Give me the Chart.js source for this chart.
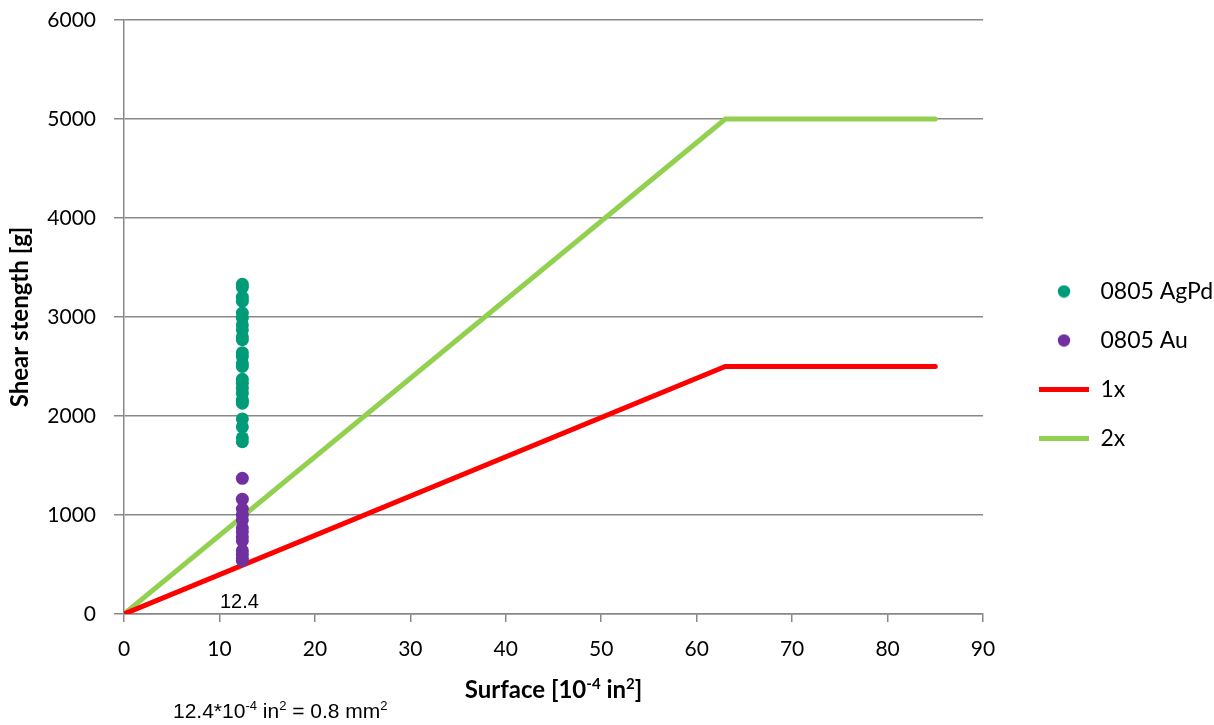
<!DOCTYPE html>
<html><head><meta charset="utf-8">
<script src="https://cdn.jsdelivr.net/npm/chart.js@4.4.1/dist/chart.umd.min.js"></script>
<style>html,body{margin:0;padding:0;background:#fff}#wrap{width:1214px;height:725px}</style>
</head><body><div id="wrap"><canvas id="c" width="1214" height="725"></canvas></div>
<script>
// ---- data ----
const seriesNames = ['0805 AgPd', '0805 Au', '1x', '2x'];
const surfaceX = 12.4;
const agpdShear = [3330, 3300, 3200, 3160, 3040, 2990, 2920, 2870, 2800, 2770, 2640, 2600, 2530, 2500, 2370, 2330, 2280, 2230, 2160, 2130, 1970, 1890, 1780, 1740];
const auShear = [1370, 1160, 1060, 1000, 950, 870, 830, 780, 740, 640, 600, 560, 540];
const limitX = [0, 63, 85];
const limit1x = [0, 2500, 2500];
const limit2x = [0, 5000, 5000];
const xTickValues = [0, 10, 20, 30, 40, 50, 60, 70, 80, 90];
const yTickValues = [0, 1000, 2000, 3000, 4000, 5000, 6000];
const pointLabel = '12.4';
const colors = ['#009B77', '#7030A0', '#FF0000', '#92D050'];

const GRID = '#888888';
const FONT = 'Lato, "Open Sans", sans-serif';
Chart.defaults.font.family = FONT;
Chart.defaults.color = '#000';

function circleIcon(color) {
  const c = document.createElement('canvas');
  c.width = 14; c.height = 14;
  const g = c.getContext('2d');
  g.fillStyle = color;
  g.beginPath(); g.arc(7, 7, 6.2, 0, Math.PI * 2); g.fill();
  return c;
}
const legendIcons = [circleIcon(colors[0]), circleIcon(colors[1])];

const textPlugin = {
  id: 'texts',
  afterInit(chart) {
    const lg = chart.legend;
    if (lg) {
      const f = lg.fit;
      lg.fit = function () { f.call(this); this.width = 201; };
    }
  },
  afterDraw(chart) {
    const ctx = chart.ctx;
    const xs = chart.scales.x, ys = chart.scales.y;
    ctx.save();
    ctx.fillStyle = '#000';
    function rich(segs, x0, baseline, size, weight, family, center) {
      let total = 0;
      segs.forEach(s => {
        ctx.font = `${weight} ${s.sup ? Math.round(size * 0.62) : size}px ${family}`;
        s.w = ctx.measureText(s.t).width; total += s.w;
      });
      let x = center ? x0 - total / 2 : x0;
      ctx.textBaseline = 'alphabetic';
      ctx.textAlign = 'left';
      segs.forEach(s => {
        ctx.font = `${weight} ${s.sup ? Math.round(size * 0.62) : size}px ${family}`;
        ctx.fillText(s.t, x, s.sup ? baseline - size * 0.38 : baseline);
        x += s.w;
      });
    }
    // x axis title
    rich([{t: 'Surface [10'}, {t: '-4', sup: true}, {t: ' in'}, {t: '2', sup: true}, {t: ']'}],
      (chart.chartArea.left + chart.chartArea.right) / 2, 698, 24, 'bold', FONT, true);
    // footnote
    rich([{t: '12.4*10'}, {t: '-4', sup: true}, {t: ' in'}, {t: '2', sup: true}, {t: ' = 0.8 mm'}, {t: '2', sup: true}],
      173, 718, 21, 'normal', '"Liberation Sans", Arial, sans-serif', false);
    // data label
    ctx.font = '20px "Liberation Sans", Arial, sans-serif';
    ctx.textAlign = 'center';
    ctx.textBaseline = 'alphabetic';
    ctx.fillText(pointLabel, xs.getPixelForValue(surfaceX) - 3, ys.getPixelForValue(0) - 6);
    ctx.restore();
  }
};

const pts = (xsArr, ysArr) => ysArr.map((y, i) => ({x: xsArr[i], y}));

new Chart(document.getElementById('c'), {
  type: 'scatter',
  data: {
    datasets: [
      {label: seriesNames[0], data: agpdShear.map(y => ({x: surfaceX, y})), backgroundColor: colors[0], borderColor: colors[0], borderWidth: 0, pointRadius: 6.5, pointHoverRadius: 6.5, pointStyle: 'circle'},
      {label: seriesNames[1], data: auShear.map(y => ({x: surfaceX, y})), backgroundColor: colors[1], borderColor: colors[1], borderWidth: 0, pointRadius: 6.5, pointHoverRadius: 6.5, pointStyle: 'circle'},
      {label: seriesNames[2], type: 'line', data: pts(limitX, limit1x), showLine: true, borderColor: colors[2], backgroundColor: colors[2], borderWidth: 5, pointRadius: 0, borderCapStyle: 'round', pointStyle: 'line', fill: false},
      {label: seriesNames[3], type: 'line', data: pts(limitX, limit2x), showLine: true, borderColor: colors[3], backgroundColor: colors[3], borderWidth: 5, pointRadius: 0, borderCapStyle: 'round', pointStyle: 'line', fill: false}
    ]
  },
  options: {
    responsive: false,
    animation: false,
    devicePixelRatio: 1,
    layout: {padding: {top: 20, right: 0, bottom: 0, left: 0}},
    plugins: {
      tooltip: {enabled: false},
      legend: {
        position: 'right',
        align: 'start',
        title: {display: true, text: ' ', font: {size: 10}, padding: {top: 222, bottom: 0}},
        labels: {
          usePointStyle: true, pointStyleWidth: 50, boxHeight: 8.5, padding: 26, color: '#000', font: {size: 23, family: FONT},
          generateLabels: chart => {
            const items = Chart.defaults.plugins.legend.labels.generateLabels(chart);
            items.forEach((it, i) => { if (i < 2) it.pointStyle = legendIcons[i]; });
            return items;
          }
        }
      }
    },
    scales: {
      x: {
        type: 'linear', min: 0, max: 90,
        afterBuildTicks: s => { s.ticks = xTickValues.map(v => ({value: v})); },
        afterFit: s => { s.height = 111; },
        grid: {display: true, drawOnChartArea: false, drawTicks: true, tickLength: 8, color: GRID, lineWidth: 1.5},
        border: {display: true, color: GRID, width: 1.5},
        ticks: {padding: 15, font: {size: 21}, color: '#000', maxRotation: 0, callback: v => String(v)}
      },
      y: {
        type: 'linear', min: 0, max: 6000,
        afterBuildTicks: s => { s.ticks = yTickValues.map(v => ({value: v})); },
        afterFit: s => { s.width = 124; s.paddingTop = 0; s.paddingBottom = 0; },
        grid: {display: true, drawOnChartArea: true, drawTicks: true, tickLength: 10, color: GRID, lineWidth: 1.5},
        border: {display: true, color: GRID, width: 1.5},
        ticks: {padding: 18, font: {size: 21}, color: '#000', callback: v => String(v)},
        title: {display: true, text: 'Shear stength [g]', font: {size: 24, weight: 'bold'}, color: '#000', padding: {top: 6, bottom: 0}}
      },
      y2: {
        type: 'linear', position: 'right', display: true,
        afterFit: s => { s.width = 30; s.paddingTop = 0; s.paddingBottom = 0; },
        grid: {display: false}, border: {display: false}, ticks: {display: false}
      }
    }
  },
  plugins: [textPlugin]
});
</script>
</body></html>
